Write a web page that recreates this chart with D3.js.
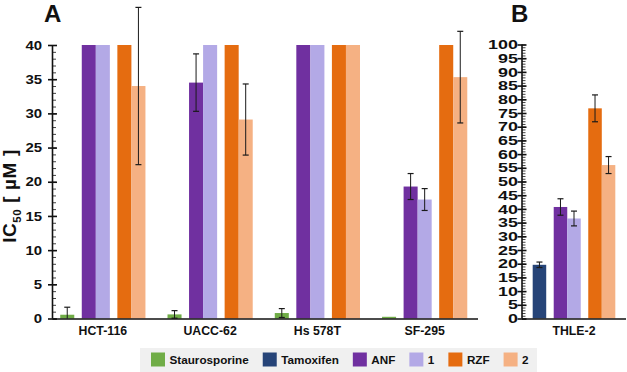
<!DOCTYPE html>
<html>
<head>
<meta charset="utf-8">
<script src="https://cdn.jsdelivr.net/npm/d3@7"></script>
<style>
  body { margin: 0; background: #fff; }
  svg { display: block; }
  text { font-family: "Liberation Sans", Arial, sans-serif; font-weight: bold; fill: #111; }
</style>
</head>
<body>
<svg id="chart" width="627" height="372"></svg>
<script>
// ---- data ----
const groupsA = ["HCT-116", "UACC-62", "Hs 578T", "SF-295"];
const groupsB = ["THLE-2"];
const seriesNames = ["Staurosporine", "Tamoxifen", "ANF", "1", "RZF", "2"];
const seriesColors = ["#70ad47", "#264478", "#7030a0", "#b3a9e6", "#e56c10", "#f5b183"];

// Panel A values (40 = upper limit of assay)
const stauroA    = [0.55, 0.6, 0.8, 0.25];
const stauroAErr = [1.1, 0.55, 0.65, 0];
const anfA       = [40, 34.5, 40, 19.3];
const anfAErr    = [0, 4.2, 0, 1.9];
const oneA       = [40, 40, 40, 17.4];
const oneAErr    = [0, 0, 0, 1.6];
const rzfA       = [40, 40, 40, 40];
const rzfAErr    = [0, 0, 0, 0];
const twoA       = [34.0, 29.1, 40, 35.3];
const twoAErr    = [11.5, 5.2, 0, 6.7];

// Panel B values
const tamB    = [19.6];
const tamBErr = [1.0];
const anfB    = [40.7];
const anfBErr = [3.0];
const oneB    = [36.5];
const oneBErr = [2.7];
const rzfB    = [76.7];
const rzfBErr = [4.9];
const twoB    = [56.0];
const twoBErr = [3.1];

const ticksA = [0, 5, 10, 15, 20, 25, 30, 35, 40];
const ticksB = d3.range(0, 101, 5);

// ---- drawing ----
const svg = d3.select("#chart");
const color = d3.scaleOrdinal().domain(seriesNames).range(seriesColors);
const slots = ["first", "ANF", "1", "RZF", "2"];
const pairOf = { first: 0, ANF: 1, "1": 1, RZF: 2, "2": 2 };
const pairGap = 7.5;

function panel(opts) {
  const { groups, series, yMax, ticks, xRange, yRange, minorStep, tickScaleX, tickDx } = opts;
  const x = d3.scaleBand().domain(groups).range(xRange)
    .paddingInner(0.2056).paddingOuter(opts.padOuter);
  const y = d3.scaleLinear().domain([0, yMax]).range(yRange);
  const inner = d3.scaleBand().domain(slots).range([0, x.bandwidth() - 2 * pairGap]);
  const g = svg.append("g");

  // bars
  series.forEach(s => {
    s.values.forEach((v, i) => {
      const gx = x(groups[i]) + inner(s.slot) + pairOf[s.slot] * pairGap;
      g.append("rect")
        .attr("x", gx).attr("width", inner.bandwidth())
        .attr("y", y(v)).attr("height", y(0) - y(v))
        .attr("fill", color(s.name));
    });
  });
  // error bars
  series.forEach(s => {
    s.values.forEach((v, i) => {
      const e = s.err[i];
      if (!e) return;
      const cx = x(groups[i]) + inner(s.slot) + pairOf[s.slot] * pairGap + inner.bandwidth() / 2;
      const lo = Math.max(0, v - e), hi = v + e;
      g.append("line").attr("x1", cx).attr("x2", cx).attr("y1", y(lo)).attr("y2", y(hi))
        .attr("stroke", "#1a1a1a").attr("stroke-width", 1);
      g.append("line").attr("x1", cx - 3).attr("x2", cx + 3).attr("y1", y(hi)).attr("y2", y(hi))
        .attr("stroke", "#1a1a1a").attr("stroke-width", 1.2);
      if (v - e > 0) {
        g.append("line").attr("x1", cx - 3).attr("x2", cx + 3).attr("y1", y(lo)).attr("y2", y(lo))
          .attr("stroke", "#1a1a1a").attr("stroke-width", 1.2);
      }
    });
  });

  // y axis: minor ticks (inside)
  const x0 = xRange[0] + opts.axisShift;
  const minor = d3.axisRight(y).tickValues(d3.range(0, yMax + 0.001, minorStep)).tickSize(3.5).tickFormat("");
  const gm = g.append("g").attr("transform", `translate(${x0},0)`).call(minor);
  gm.select(".domain").remove();
  gm.selectAll("line").attr("stroke", "#111").attr("stroke-width", 0.8);

  // major ticks crossing axis
  const major = d3.axisLeft(y).tickValues(ticks).tickSize(4.5).tickPadding(5);
  const ga = g.append("g").attr("transform", `translate(${x0},0)`).call(major);
  ga.select(".domain").attr("stroke", "#111").attr("stroke-width", 1.6).attr("d", `M0,${yRange[0]}V${yRange[1]}`);
  ga.selectAll(".tick line").attr("stroke", "#111").attr("stroke-width", 1.6).attr("x2", -4.5).attr("x1", 4.5);
  ga.selectAll(".tick text")
    .style("font-family", "'Liberation Sans', Arial, sans-serif")
    .style("font-weight", "bold")
    .style("font-size", opts.tickFont + "px")
    .attr("fill", "#111")
    .attr("x", null)
    .attr("dx", null)
    .attr("transform", `translate(${-tickDx},0) scale(${tickScaleX},1)`)
    .attr("text-anchor", "end");

  // x axis
  g.append("line").attr("x1", x0).attr("x2", xRange[1])
    .attr("y1", yRange[0] + 0.5).attr("y2", yRange[0] + 0.5)
    .attr("stroke", "#111").attr("stroke-width", 1.6);
  g.selectAll(".cat").data(groups).join("text")
    .attr("class", "cat")
    .attr("x", d => x(d) + x.bandwidth() / 2)
    .attr("y", yRange[0] + 16.5)
    .attr("text-anchor", "middle")
    .style("font-size", "12.3px")
    .text(d => d);
}

panel({
  groups: groupsA,
  series: [
    { name: "Staurosporine", slot: "first", values: stauroA, err: stauroAErr },
    { name: "ANF", slot: "ANF", values: anfA, err: anfAErr },
    { name: "1", slot: "1", values: oneA, err: oneAErr },
    { name: "RZF", slot: "RZF", values: rzfA, err: rzfAErr },
    { name: "2", slot: "2", values: twoA, err: twoAErr }
  ],
  yMax: 40, ticks: ticksA, xRange: [49.5, 478], yRange: [318.5, 45], padOuter: 0.1,
  minorStep: 1, tickFont: 13, tickScaleX: 1.15, tickDx: 10.5, axisShift: 3
});

panel({
  groups: groupsB,
  series: [
    { name: "Tamoxifen", slot: "first", values: tamB, err: tamBErr },
    { name: "ANF", slot: "ANF", values: anfB, err: anfBErr },
    { name: "1", slot: "1", values: oneB, err: oneBErr },
    { name: "RZF", slot: "RZF", values: rzfB, err: rzfBErr },
    { name: "2", slot: "2", values: twoB, err: twoBErr }
  ],
  yMax: 100, ticks: ticksB, xRange: [522, 626], yRange: [318.5, 44.5], padOuter: 0.083,
  minorStep: 1, tickFont: 13, tickScaleX: 1.38, tickDx: 4, axisShift: 0
});

// panel letters
svg.append("text").attr("x", 44).attr("y", 22).style("font-size", "24px").text("A");
svg.append("text").attr("x", 511).attr("y", 22).style("font-size", "24px").text("B");

// y axis title
const yt = svg.append("text")
  .attr("transform", "translate(16,196) rotate(-90)")
  .attr("text-anchor", "middle")
  .style("font-size", "19px")
  .style("letter-spacing", "0.6px");
yt.append("tspan").text("IC");
yt.append("tspan").attr("dy", 5).style("font-size", "11.5px").text("50");
yt.append("tspan").attr("dy", -5).text(" [ µM ]");

// legend
const legend = svg.append("g");
legend.append("rect").attr("x", 140).attr("y", 348).attr("width", 397).attr("height", 24).attr("fill", "#f0f0f0");
let lx = 151;
seriesNames.forEach(name => {
  legend.append("rect").attr("x", lx).attr("y", 352.5).attr("width", 14).attr("height", 14).attr("fill", color(name));
  const t = legend.append("text").attr("x", lx + 18.5).attr("y", 364).style("font-size", "11.7px").text(name);
  lx += 18.5 + t.node().getComputedTextLength() + 14;
});
</script>
</body>
</html>
